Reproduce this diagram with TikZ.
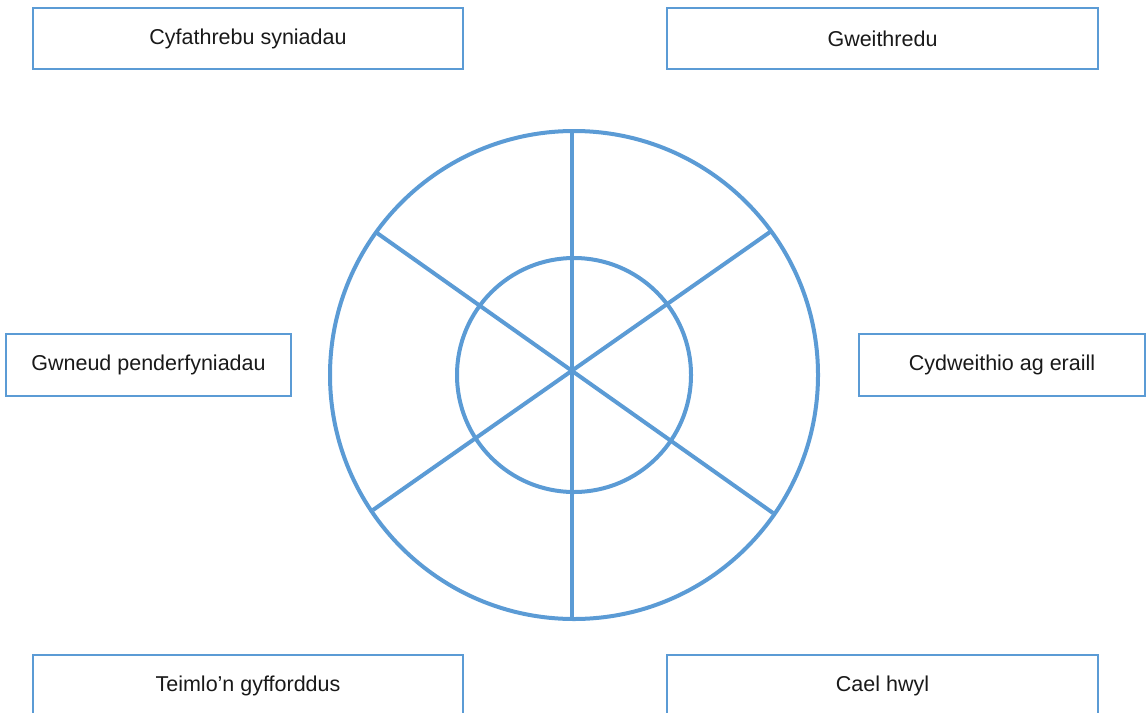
\documentclass[tikz,border=0pt]{standalone}
\usepackage{fontspec}
\setmainfont{Liberation Sans}
\definecolor{wheelblue}{HTML}{5B9BD5}
\begin{document}
\begin{tikzpicture}[x=1pt,y=-1pt,
  label box/.style={draw=wheelblue,line width=2.2pt,rectangle,inner sep=0pt,
    font=\fontsize{21.5}{26}\selectfont,text=black!90},
  wheel/.style={draw=wheelblue,line width=4pt}]
\useasboundingbox (0,0) rectangle (1147,712);
\clip (0,0) rectangle (1147,712);
% boxes
\node[label box,minimum width=430pt,minimum height=61pt] (tl) at (248,38.5) {Cyfathrebu syniadau};
\node[label box,minimum width=431pt,minimum height=61pt] (tr) at (882.5,38.5) {Gweithredu};
\node[label box,minimum width=285pt,minimum height=62pt] (ml) at (148.5,365) {Gwneud penderfyniadau};
\node[label box,minimum width=286pt,minimum height=62pt] (mr) at (1002,365) {Cydweithio ag eraill};
\node[label box,minimum width=430pt,minimum height=61pt] (bl) at (248,685.5) {Teimlo’n gyfforddus};
\node[label box,minimum width=431pt,minimum height=61pt] (br) at (882.5,685.5) {Cael hwyl};
% wheel
\coordinate (c) at (574,375);
\coordinate (top) at (572,131);
\coordinate (bot) at (572,617);
\coordinate (ul) at (377,233);
\coordinate (lr) at (773,513);
\coordinate (ur) at (770,232);
\coordinate (ll) at (373,510);
\draw[wheel] (c) circle[radius=244];
\draw[wheel] (c) circle[radius=117];
\draw[wheel] (top) -- (bot);
\draw[wheel] (ul) -- (lr);
\draw[wheel] (ur) -- (ll);
\end{tikzpicture}
\end{document}
